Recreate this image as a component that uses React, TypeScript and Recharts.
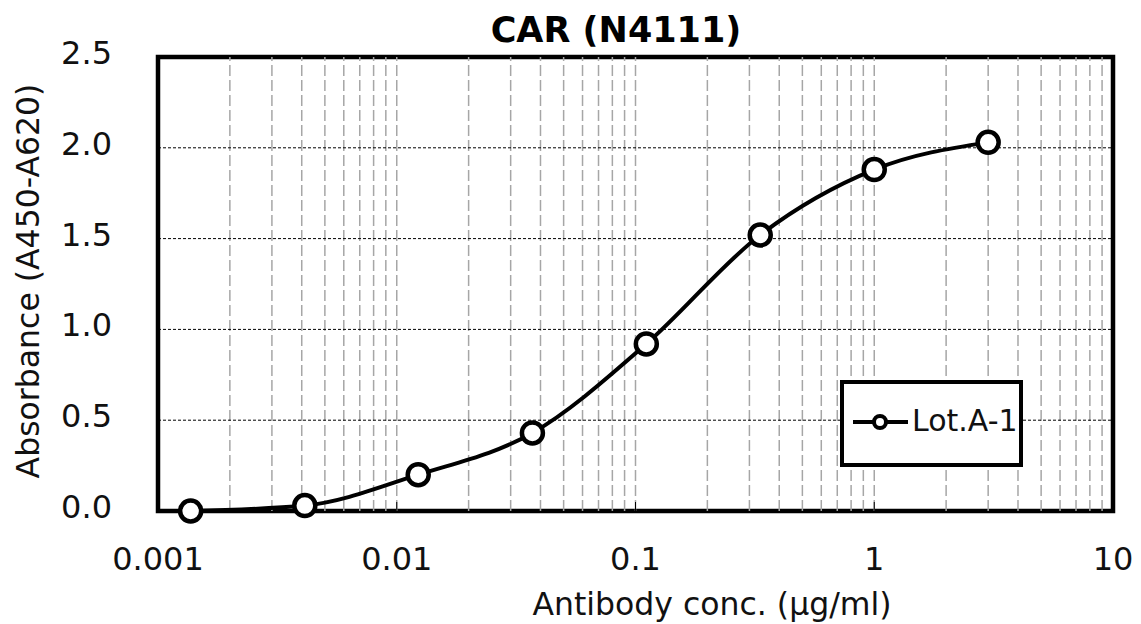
import React from "react";
import {
  LineChart,
  Line,
  XAxis,
  YAxis,
  ReferenceLine,
  ReferenceArea,
  Legend,
} from "recharts";

// antibody concentration (µg/ml), 3-fold dilution series
const concentrations = [0.00137, 0.00412, 0.0123, 0.037, 0.111, 0.333, 1, 3];
// absorbance A450-A620
const lotA1 = [0.0, 0.03, 0.2, 0.43, 0.92, 1.52, 1.88, 2.03];

const xTicks = [0.001, 0.01, 0.1, 1, 10];
const yTicks = [0, 0.5, 1, 1.5, 2, 2.5];
const gridY = [0.5, 1, 1.5, 2];
const decades = [0.001, 0.01, 0.1, 1];
const multipliers = [2, 3, 4, 5, 6, 7, 8, 9, 10];
// minor log gridlines, 0.002 ... 9 (10 is the frame)
const gridX = decades
  .flatMap((d) => multipliers.map((m) => +(d * m).toPrecision(3)))
  .filter((v) => v < 10);

const title = "CAR (N4111)";
const xTitle = "Antibody conc. (µg/ml)";
const yTitle = "Absorbance (A450-A620)";
const seriesName = "Lot.A-1";

const data = concentrations.map((c, i) => ({ conc: c, value: lotA1[i] }));

const FONT = "'DejaVu Sans', Verdana, sans-serif";

function XTick({ x, y, payload }: any) {
  const v = payload.value;
  const inner = v > 0.001 && v < 10;
  return (
    <g>
      {inner && <line x1={x} x2={x} y1={y} y2={y - 9} stroke="#000" strokeWidth={1} />}
      <text x={x} y={y + 59} textAnchor="middle" fontSize={32} fill="#111" fontFamily={FONT}>
        {String(v)}
      </text>
    </g>
  );
}

function YTick({ x, y, payload }: any) {
  return (
    <text x={x - 46} y={y + 7} textAnchor="end" fontSize={32} fill="#111" fontFamily={FONT}>
      {payload.value.toFixed(1)}
    </text>
  );
}

function LegendBox() {
  return (
    <div
      style={{
        width: 183,
        height: 87,
        boxSizing: "border-box",
        border: "4px solid #000",
        background: "#fff",
        position: "relative",
      }}
    >
      <svg width={175} height={79} style={{ position: "absolute", left: 0, top: 0 }}>
        <line x1={9} x2={64} y1={38} y2={38} stroke="#000" strokeWidth={4} />
        <circle cx={36} cy={38} r={6} fill="#fff" stroke="#000" strokeWidth={4} />
        <text x={68} y={47} fontSize={30} fill="#111" fontFamily={FONT}>
          {seriesName}
        </text>
      </svg>
    </div>
  );
}

export default function App() {
  return (
    <div
      style={{
        position: "absolute",
        left: 0,
        top: 0,
        width: 1141,
        height: 624,
        background: "#fff",
        fontFamily: FONT,
      }}
    >
      <LineChart
        width={1141}
        height={624}
        data={data}
        margin={{ top: 57, right: 28, bottom: 0, left: 0 }}
      >
        {gridX.map((g) => (
          <ReferenceLine
            key={"x" + g}
            x={g}
            stroke="#a6a6a6"
            strokeWidth={1.5}
            strokeDasharray="11 4"
          />
        ))}
        {gridY.map((g) => (
          <ReferenceLine
            key={"y" + g}
            y={g}
            stroke="#000"
            strokeWidth={1}
            strokeDasharray="3 2"
          />
        ))}
        <XAxis
          dataKey="conc"
          type="number"
          scale="log"
          domain={[0.001, 10]}
          ticks={xTicks}
          allowDataOverflow
          height={113}
          tickSize={0}
          tickMargin={0}
          axisLine={false}
          tickLine={false}
          tick={<XTick />}
          interval={0}
        />
        <YAxis
          type="number"
          domain={[0, 2.5]}
          ticks={yTicks}
          width={158}
          tickSize={0}
          tickMargin={0}
          axisLine={false}
          tickLine={false}
          tick={<YTick />}
          interval={0}
        />
        <ReferenceArea
          x1={0.001}
          x2={10}
          y1={0}
          y2={2.5}
          ifOverflow="visible"
          fill="none"
          fillOpacity={0}
          stroke="#000"
          strokeWidth={4.5}
        />
        <Legend
          layout="horizontal"
          verticalAlign="middle"
          align="center"
          wrapperStyle={{ left: 840, top: 380, width: 183, height: 87 }}
          content={() => <LegendBox />}
        />
        <Line
          type="monotone"
          dataKey="value"
          name={seriesName}
          stroke="#000"
          strokeWidth={4}
          dot={{ r: 10.5, fill: "#fff", stroke: "#000", strokeWidth: 4.5 }}
          isAnimationActive={false}
        />
      </LineChart>
      <svg
        width={1141}
        height={624}
        style={{ position: "absolute", left: 0, top: 0, pointerEvents: "none" }}
      >
        <text x={616} y={42} textAnchor="middle" fontSize={35} fontWeight="bold" fill="#000" fontFamily={FONT}>
          {title}
        </text>
        <text x={712} y={615} textAnchor="middle" fontSize={31.5} fill="#111" fontFamily={FONT}>
          {xTitle}
        </text>
        <text
          x={28}
          y={281}
          textAnchor="middle"
          dominantBaseline="central"
          fontSize={31.5}
          fill="#111"
          fontFamily={FONT}
          transform="rotate(-90 28 281)"
        >
          {yTitle}
        </text>
      </svg>
    </div>
  );
}
